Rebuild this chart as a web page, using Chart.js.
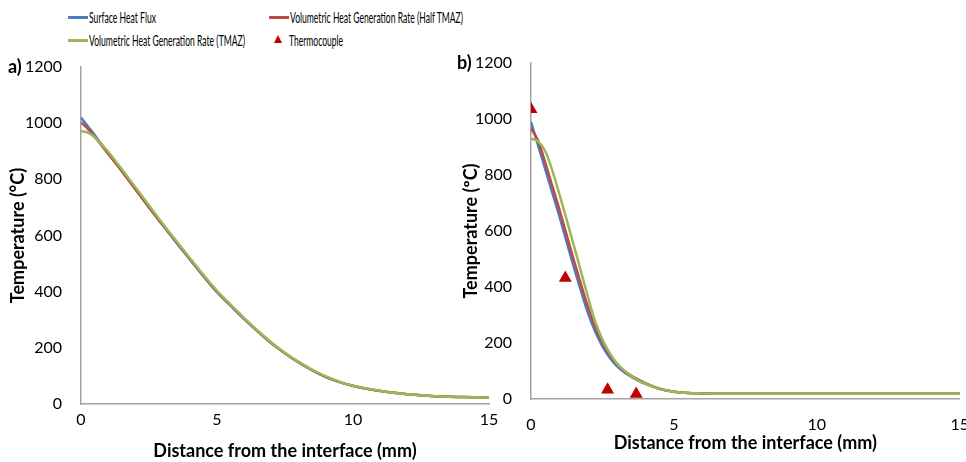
<!DOCTYPE html>
<html>
<head>
<meta charset="utf-8">
<script src="https://cdn.jsdelivr.net/npm/chart.js@4.4.0/dist/chart.umd.min.js"></script>
<style>
  body { margin: 0; width: 966px; height: 462px; overflow: hidden; background: #fff; position: relative; font-family: Lato, sans-serif; }
  .box { position: absolute; top: 0; }
  #boxA { left: 0; }
  #boxB { left: 455px; }
  .key { position: absolute; height: 3px; width: 20px; }
  .txt { position: absolute; font-size: 15px; line-height: 18px; white-space: nowrap; color: #000; transform-origin: 0 50%; }
  .tri { position: absolute; width: 0; height: 0; border-left: 4px solid transparent; border-right: 4px solid transparent; border-bottom: 8px solid #c00000; }
</style>
</head>
<body>

<div class="key" style="left:68px; top:16px; background:#4a7ebb"></div>
<span class="txt" data-w="67" style="left:89px; top:8px">Surface Heat Flux</span>
<div class="key" style="left:269px; top:16px; background:#be4b48"></div>
<span class="txt" data-w="173" style="left:290px; top:8px">Volumetric Heat Generation Rate (Half TMAZ)</span>
<div class="key" style="left:68px; top:39px; background:#98b954"></div>
<span class="txt" data-w="156" style="left:89px; top:31px">Volumetric Heat Generation Rate (TMAZ)</span>
<div class="tri" style="left:274px; top:35px"></div>
<span class="txt" data-w="54" style="left:289px; top:31px">Thermocouple</span>

<div class="box" id="boxA"><canvas id="chartA" width="520" height="462"></canvas></div>
<div class="box" id="boxB"><canvas id="chartB" width="530" height="462"></canvas></div>

<script>
// panel a) - temperature profiles
let xA = [0, 0.25, 0.5, 1, 1.5, 2, 2.5, 3, 3.5, 4, 4.5, 5, 5.5, 6, 6.5, 7, 7.5, 8, 8.5, 9, 9.5, 10, 10.5, 11, 11.5, 12, 12.5, 13, 13.5, 14, 14.5, 15];
let surfaceA = [1020, 989, 958, 893, 830, 765, 700, 637, 575, 515, 455, 398, 350, 302, 258, 216, 180, 148, 120, 96, 78, 64, 54, 46, 40, 35, 31, 28, 26, 25, 24, 23];
let halfTmazA = [1003, 980, 952, 891, 829, 765, 701, 638, 577, 517, 457, 400, 352, 304, 259, 217, 181, 149, 121, 97, 79, 65, 54, 46, 40, 35, 31, 28, 26, 25, 24, 23];
let tmazA = [972, 966, 950, 898, 836, 772, 707, 643, 581, 520, 460, 403, 354, 306, 261, 219, 182, 150, 122, 98, 79, 65, 55, 47, 40, 35, 31, 28, 26, 25, 24, 23];

// panel b) - profiles plus measured points
let xB = [0, 0.25, 0.5, 0.75, 1, 1.25, 1.5, 1.75, 2, 2.25, 2.5, 2.75, 3, 3.25, 3.5, 3.75, 4, 4.5, 5, 5.5, 6, 7, 8, 9, 10, 11, 12, 13, 14, 15];
let surfaceB = [990, 905, 820, 735, 650, 560, 470, 385, 305, 240, 188, 148, 118, 96, 80, 66, 54, 36, 26, 21, 20, 19, 19, 19, 19, 19, 19, 19, 19, 19];
let halfTmazB = [967, 922, 844, 759, 675, 585, 495, 409, 327, 258, 202, 159, 126, 101, 84, 70, 57, 37, 26, 21, 20, 19, 19, 19, 19, 19, 19, 19, 19, 19];
let tmazB = [930, 920, 885, 815, 729, 640, 548, 455, 362, 275, 212, 165, 128, 102, 82, 67, 55, 36, 26, 21, 20, 19, 19, 19, 19, 19, 19, 19, 19, 19];
let thermoX = [0, 1.2, 2.68, 3.68];
let thermoY = [1035, 432, 33, 18];

let yTicks = [0, 200, 400, 600, 800, 1000, 1200];
let xTicks = [0, 5, 10, 15];

const blue = "#4a7ebb";
const red = "#be4b48";
const green = "#98b954";
const axisGrey = "#a3a3a3";

function toPoints(xs, ys) {
    return xs.map((x, i) => ({ x: x, y: ys[i] }));
}

// higher order is drawn further back, so green ends up on top like the original
function lineSet(label, xs, ys, color, order) {
    return {
        label: label,
        data: toPoints(xs, ys),
        borderColor: color,
        backgroundColor: color,
        borderWidth: 2.5,
        pointRadius: 0,
        cubicInterpolationMode: "monotone",
        fill: false,
        order: order,
    };
}

const panelLabel = {
    id: "panelLabel",
    afterDraw(chart, args, opts) {
        const ctx = chart.ctx;
        ctx.save();
        ctx.font = "bold 18px Lato";
        ctx.fillStyle = "#000";
        ctx.textAlign = "left";
        ctx.textBaseline = "middle";
        ctx.fillText(opts.text, opts.x, chart.scales.y.getPixelForValue(1200));
        ctx.restore();
    },
};

function makeChart(id, cfg) {
    return new Chart(document.getElementById(id), {
        type: "line",
        data: { datasets: cfg.datasets },
        plugins: [panelLabel],
        options: {
            responsive: false,
            animation: false,
            layout: { padding: { left: 0, top: cfg.top, right: cfg.right, bottom: 0 } },
            plugins: {
                legend: { display: false },
                tooltip: { enabled: false },
                panelLabel: { text: cfg.panel, x: cfg.panelX },
            },
            scales: {
                x: {
                    type: "linear",
                    min: 0,
                    max: 15,
                    afterBuildTicks: (s) => { s.ticks = xTicks.map((v) => ({ value: v })); },
                    afterFit: (s) => { s.height = cfg.xHeight; },
                    grid: { display: false, drawTicks: false },
                    border: { display: true, color: axisGrey, width: 1.5 },
                    ticks: { color: "#000", font: { family: "Lato", size: 16 }, padding: cfg.xTickPad, maxRotation: 0, callback: (v) => String(v) },
                    title: {
                        display: true,
                        text: "Distance from the interface (mm)",
                        color: "#000",
                        font: { family: "Lato", size: 18, weight: "bold" },
                        padding: { top: 0, bottom: cfg.xTitlePad },
                    },
                },
                y: {
                    min: 0,
                    max: 1200,
                    afterBuildTicks: (s) => { s.ticks = yTicks.map((v) => ({ value: v })); },
                    afterFit: (s) => { s.width = cfg.yWidth; },
                    grid: { display: false, drawTicks: false },
                    border: { display: true, color: axisGrey, width: 1.5 },
                    ticks: { color: "#000", font: { family: "Lato", size: 16 }, padding: 19, callback: (v) => String(v) },
                    title: {
                        display: true,
                        text: cfg.yTitle,
                        color: "#000",
                        font: { family: "Lato", size: 18, weight: "bold" },
                        padding: { top: cfg.yTitlePad, bottom: 0 },
                    },
                },
            },
        },
    });
}

makeChart("chartA", {
    datasets: [
        lineSet("Surface Heat Flux", xA, surfaceA, blue, 3),
        lineSet("Volumetric Heat Generation Rate (Half TMAZ)", xA, halfTmazA, red, 2),
        lineSet("Volumetric Heat Generation Rate (TMAZ)", xA, tmazA, green, 1),
    ],
    panel: "a)",
    panelX: 8,
    yTitle: "Temperature (°C)",
    top: 67,
    right: 31,
    yWidth: 81,
    xHeight: 58,
    xTickPad: 6,
    xTitlePad: 0,
    yTitlePad: 7,
});

makeChart("chartB", {
    datasets: [
        lineSet("Surface Heat Flux", xB, surfaceB, blue, 3),
        lineSet("Volumetric Heat Generation Rate (Half TMAZ)", xB, halfTmazB, red, 2),
        lineSet("Volumetric Heat Generation Rate (TMAZ)", xB, tmazB, green, 1),
        {
            label: "Thermocouple",
            data: toPoints(thermoX, thermoY),
            showLine: false,
            pointStyle: "triangle",
            pointRadius: 7.5,
            pointBackgroundColor: "#c00000",
            pointBorderColor: "#c00000",
            pointBorderWidth: 0,
            order: 0,
        },
    ],
    panel: "b)",
    panelX: 2,
    yTitle: "Temperature (ºC)",
    top: 63,
    right: 23,
    yWidth: 76,
    xHeight: 63,
    xTickPad: 16,
    xTitlePad: 8,
    yTitlePad: 5,
});

// squeeze legend text to the condensed widths of the original
document.querySelectorAll(".txt").forEach((el) => {
    const w = el.getBoundingClientRect().width;
    el.style.transform = "scaleX(" + (parseFloat(el.dataset.w) / w) + ")";
});
</script>
</body>
</html>
